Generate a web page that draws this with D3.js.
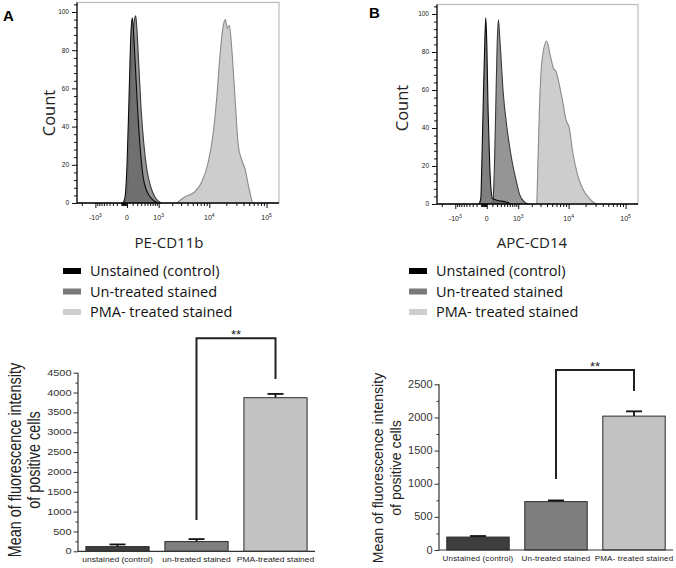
<!DOCTYPE html>
<html><head><meta charset="utf-8">
<script src="https://cdn.jsdelivr.net/npm/d3@7"></script>
<style>body{margin:0;background:#fff} svg{display:block}</style>
</head><body><svg id="c" width="676" height="568"></svg>
<script>
// ================= DATA =================
const histSeries = ["Unstained (control)", "Un-treated stained", "PMA- treated stained"];
const histXTicks = [-1000, 0, 1000, 10000, 100000];
const histXTickBase = ["-10", "0", "10", "10", "10"];
const histXTickExp = ["3", "", "3", "4", "5"];
const histYTicks = [0, 20, 40, 60, 80, 100];
const histXMinor = [-2000, -900, -800, -700, -600, -500, -400, -300, -200, -100,
  -90, -80, -70, -60, -50, -40, -30, -20, -10,
  100, 200, 300, 400, 500, 600, 700, 800, 900,
  2000, 3000, 4000, 5000, 6000, 7000, 8000, 9000,
  20000, 30000, 40000, 50000, 60000, 70000, 80000, 90000];
const histYMinor = [4, 8, 12, 16, 24, 28, 32, 36, 44, 48, 52, 56, 64, 68, 72, 76, 84, 88, 92, 96, 104];

// Panel A: PE-CD11b histograms, [fluorescence, count]
const cd11bUnstained = [[-69,0],[-33,3],[0,20],[33,55],[69,90],[93,97],[117,90],[149,75],[194,55],[269,30],[354,14],[483,6],[677,2],[965,0]];
const cd11bUntreated = [[-33,0],[0,5],[33,30],[69,65],[107,88],[138,96],[165,98],[194,90],[243,70],[296,50],[384,30],[483,17],[635,8],[812,3],[1138,0]];
const cd11bPMA = [[2460,0],[3577,3.3],[5510,6],[7306,11],[9609,21.6],[11800,37],[13560,55],[15505,77.5],[17720,93],[19220,96],[20840,91.5],[22600,93],[24890,81],[28410,55],[32430,30],[37170,22.5],[42400,18],[48400,9.4],[56770,0]];

// Panel B: APC-CD14 histograms, [fluorescence, count]
const cd14Unstained = [[-143,0],[-107,3],[-88,20],[-63,50],[-33,85],[-16,98],[0,85],[21,50],[50,20],[101,3],[194,2],[473,1],[635,0]];
const cd14Untreated = [[113,0],[143,20],[171,50],[206,85],[236,97],[269,88],[296,80],[363,60],[494,40],[595,30],[734,20],[897,12],[1078,5],[1402,1],[1711,0]];
const cd14PMA = [[2532,0],[2864,52],[3232,76.7],[3956,85.8],[4585,78.4],[5280,71.4],[5920,69.6],[6804,62.6],[7812,53.8],[8992,44.2],[10308,39.8],[11800,27.5],[14480,15.3],[17720,8.2],[23240,3],[30430,0]];

// Bar charts: mean fluorescence intensity of positive cells
const barGroupsA = ["unstained (control)", "un-treated stained", "PMA-treated stained"];
const mfiA = [118, 245, 3870];
const mfiErrA = [55, 62, 95];
const barYTicksA = [0, 500, 1000, 1500, 2000, 2500, 3000, 3500, 4000, 4500];
const sigA = {from: 1, to: 2, top: 5370, leftEnd: 790, rightEnd: 4340, label: "**"};

const barGroupsB = ["Unstained (control)", "Un-treated stained", "PMA- treated stained"];
const mfiB = [195, 730, 2020];
const mfiErrB = [16, 18, 72];
const barYTicksB = [0, 500, 1000, 1500, 2000, 2500];
const sigB = {from: 1, to: 2, top: 2717, leftEnd: 1072, rightEnd: 2400, label: "**"};

// ================= STYLES =================
const histFill = ["#6a6a6a", "#959595", "#cdcdcd"];
const histStroke = ["#0a0a0a", "#3a3a3a", "#8a8a8a"];
const histOpacity = [0.85, 1, 1];
const legendFill = ["#000000", "#7a7a7a", "#cfcfcf"];
const barFill = ["#3e3e3e", "#7e7e7e", "#c2c2c2"];
const sansA = "'Liberation Sans', Arial, sans-serif";
const sansB = "'Open Sans', 'Noto Sans', sans-serif";

const svg = d3.select("#c");
svg.append("rect").attr("width", 676).attr("height", 568).attr("fill", "#fff");

function histPanel(o) {
  const g = svg.append("g");
  const x = d3.scaleSymlog().constant(400).domain([-2500, 164000]).range([o.x0, o.x1]);
  const y = d3.scaleLinear().domain([0, 100]).range([o.yB, o.y100]);
  const yTop = y(105);
  g.append("rect").attr("x", o.x0).attr("y", yTop).attr("width", o.x1 - o.x0).attr("height", o.yB - yTop)
    .attr("fill", "none").attr("stroke", "#bcbcbc").attr("stroke-width", 1.2);
  const area = d3.area().x(d => x(d[0])).y0(y(0)).y1(d => y(d[1])).curve(d3.curveMonotoneX);
  const line = d3.line().x(d => x(d[0])).y(d => y(d[1])).curve(d3.curveMonotoneX);
  [2, 1, 0].forEach(i => {
    const s = o.data[i];
    g.append("path").datum(s).attr("d", area).attr("fill", histFill[i]).attr("fill-opacity", histOpacity[i]);
    g.append("path").datum(s).attr("d", line).attr("fill", "none").attr("stroke", histStroke[i]).attr("stroke-width", 1.1);
  });
  // x axis
  const gx = g.append("g").attr("transform", `translate(0,${o.yB})`);
  gx.call(d3.axisBottom(x).tickValues(histXMinor).tickSize(3).tickFormat("").tickSizeOuter(0));
  gx.append("g").call(d3.axisBottom(x).tickValues(histXTicks).tickSize(5).tickFormat("").tickSizeOuter(0));
  gx.selectAll(".domain").remove();
  gx.selectAll("line").attr("stroke", "#111");
  g.append("line").attr("x1", o.x0).attr("x2", o.x1).attr("y1", o.yB).attr("y2", o.yB).attr("stroke", "#000").attr("stroke-width", 1.6);
  histXTicks.forEach((v, i) => {
    const t = g.append("text").attr("x", x(v)).attr("y", o.yB + 17).attr("text-anchor", "middle")
      .attr("font-family", sansA).attr("font-size", 7).attr("fill", "#222");
    t.append("tspan").text(histXTickBase[i]);
    if (histXTickExp[i]) t.append("tspan").attr("dy", -3).attr("font-size", 5).text(histXTickExp[i]);
  });
  // y axis
  const gy = g.append("g").attr("transform", `translate(${o.x0},0)`);
  gy.call(d3.axisLeft(y).tickValues(histYMinor).tickSize(3).tickFormat("").tickSizeOuter(0));
  gy.append("g").call(d3.axisLeft(y).tickValues(histYTicks).tickSize(5).tickFormat("").tickSizeOuter(0));
  gy.selectAll(".domain").remove();
  gy.selectAll("line").attr("stroke", "#111");
  g.append("line").attr("x1", o.x0).attr("x2", o.x0).attr("y1", yTop).attr("y2", o.yB).attr("stroke", "#000").attr("stroke-width", 1.2);
  histYTicks.forEach(v => {
    g.append("text").attr("x", o.x0 - 8).attr("y", y(v) + 2.3).attr("text-anchor", "end")
      .attr("font-family", sansA).attr("font-size", 6.5).attr("fill", "#222").text(v);
  });
  // labels
  g.append("text").attr("transform", `translate(${o.countX},${o.countY}) rotate(-90)`).attr("text-anchor", "middle")
    .attr("font-family", sansB).attr("font-size", 16.5).attr("fill", "#222").text("Count");
  g.append("text").attr("x", o.labX).attr("y", o.labY).attr("text-anchor", "middle")
    .attr("font-family", sansB).attr("font-size", 15).attr("fill", "#222").text(o.label);
  g.append("text").attr("x", o.pX).attr("y", o.pY).attr("font-family", sansA).attr("font-weight", "bold")
    .attr("font-size", 15).attr("fill", "#000").text(o.panel);
  // legend
  histSeries.forEach((name, i) => {
    const cy = o.legY + i * 20.5;
    g.append("rect").attr("x", o.legX).attr("y", cy - 3).attr("width", 18).attr("height", 6).attr("fill", legendFill[i]);
    g.append("text").attr("x", o.legX + 27).attr("y", cy + 5).attr("font-family", sansB).attr("font-size", 14.5)
      .attr("fill", "#111").text(name);
  });
}

histPanel({x0: 77, x1: 279, yB: 203, y100: 12, data: [cd11bUnstained, cd11bUntreated, cd11bPMA],
  label: "PE-CD11b", labX: 169, labY: 248, countX: 55, countY: 113, panel: "A", pX: 3, pY: 21, legX: 63, legY: 271});
histPanel({x0: 437, x1: 638, yB: 204, y100: 14, data: [cd14Unstained, cd14Untreated, cd14PMA],
  label: "APC-CD14", labX: 532, labY: 248, countX: 408, countY: 108, panel: "B", pX: 369, pY: 18, legX: 409, legY: 271});

function barPanel(o) {
  const g = svg.append("g");
  const sx = o.stretch;
  const x = d3.scaleBand().domain(o.groups).range([o.x0, o.x1]).paddingInner(0.2).paddingOuter(0.1);
  const y = d3.scaleLinear().domain([0, o.ticks[o.ticks.length - 1]]).range([o.yB, o.yT]);
  // bars
  o.groups.forEach((grp, i) => {
    g.append("rect").attr("x", x(grp)).attr("y", y(o.vals[i])).attr("width", x.bandwidth()).attr("height", y(0) - y(o.vals[i]))
      .attr("fill", barFill[i]).attr("stroke", "#2a2a2a").attr("stroke-width", 1);
    const cx = x(grp) + x.bandwidth() / 2;
    g.append("line").attr("x1", cx).attr("x2", cx).attr("y1", y(o.vals[i])).attr("y2", y(o.vals[i] + o.errs[i]))
      .attr("stroke", "#111").attr("stroke-width", 1.8);
    g.append("line").attr("x1", cx - 8).attr("x2", cx + 8).attr("y1", y(o.vals[i] + o.errs[i])).attr("y2", y(o.vals[i] + o.errs[i]))
      .attr("stroke", "#111").attr("stroke-width", 1.8);
    g.append("text").attr("transform", `translate(${cx},${o.catY}) scale(${sx},1)`).attr("text-anchor", "middle").attr("font-family", sansA)
      .attr("font-size", o.catSize).attr("letter-spacing", o.catSpacing).attr("fill", "#222").text(grp);
  });
  // axes
  const minor = o.ticks.slice(0, -1).map((t, i) => (t + o.ticks[i + 1]) / 2);
  const gy = g.append("g").attr("transform", `translate(${o.x0},0)`);
  gy.call(d3.axisLeft(y).tickValues(minor).tickSize(2.5).tickFormat("").tickSizeOuter(0));
  gy.append("g").call(d3.axisLeft(y).tickValues(o.ticks).tickSize(4.5).tickFormat("").tickSizeOuter(0));
  gy.selectAll(".domain").remove();
  gy.selectAll("line").attr("stroke", "#333");
  g.append("line").attr("x1", o.x0).attr("x2", o.x0).attr("y1", o.yT).attr("y2", o.yB).attr("stroke", "#333").attr("stroke-width", 1.2);
  g.append("line").attr("x1", o.x0).attr("x2", o.x1).attr("y1", o.yB).attr("y2", o.yB).attr("stroke", "#333").attr("stroke-width", 1.2);
  o.ticks.forEach(v => {
    g.append("text").attr("transform", `translate(${o.x0 - 6.5},${y(v) + o.tickSize * 0.36}) scale(${sx},1)`).attr("text-anchor", "end")
      .attr("font-family", sansA).attr("font-size", o.tickSize).attr("fill", "#333").text(v);
  });
  // y title (glyph height stretched like the source image)
  const yt = g.append("text").attr("transform", `translate(0,${o.titleY}) rotate(-90) scale(1,${sx})`).attr("text-anchor", "middle")
    .attr("font-family", sansA).attr("font-size", o.titleSize).attr("fill", "#222");
  yt.append("tspan").attr("x", 0).attr("y", o.titleX1 / sx).text("Mean of fluorescence intensity");
  yt.append("tspan").attr("x", 0).attr("y", o.titleX2 / sx).text("of positive cells");
  // significance bracket
  const s = o.sig;
  const lx = x(o.groups[s.from]) + x.bandwidth() / 2, rx = x(o.groups[s.to]) + x.bandwidth() / 2;
  g.append("path").attr("d", `M${lx},${y(s.leftEnd)}V${y(s.top)}H${rx}V${y(s.rightEnd)}`)
    .attr("fill", "none").attr("stroke", "#222").attr("stroke-width", 2);
  g.append("text").attr("x", (lx + rx) / 2).attr("y", y(s.top) + 1).attr("text-anchor", "middle")
    .attr("font-family", sansA).attr("font-size", 13).attr("fill", "#222").text(s.label);
}

barPanel({x0: 78, x1: 315, yB: 551.3, yT: 372.7, groups: barGroupsA, vals: mfiA, errs: mfiErrA, ticks: barYTicksA,
  sig: sigA, catY: 562, catSize: 6.6, catSpacing: 0, tickSize: 8.5, stretch: 1.29,
  titleY: 460, titleX1: 21.5, titleX2: 40, titleSize: 14.4});
barPanel({x0: 439, x1: 673, yB: 550, yT: 384.3, groups: barGroupsB, vals: mfiB, errs: mfiErrB, ticks: barYTicksB,
  sig: sigB, catY: 561, catSize: 7.3, catSpacing: 0.15, tickSize: 10, stretch: 1.1,
  titleY: 468, titleX1: 383, titleX2: 401, titleSize: 14.1});
</script></body></html>
